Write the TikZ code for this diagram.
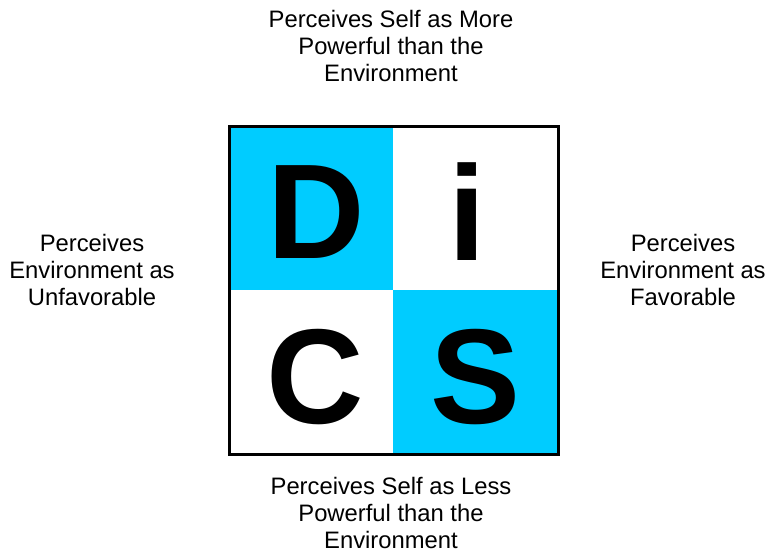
\documentclass[tikz,border=0pt]{standalone}
\usepackage{fontspec}
\setmainfont{Liberation Sans}
\definecolor{discyan}{HTML}{00CCFF}
\begin{document}
\begin{tikzpicture}[x=1pt,y=-1pt,
  lab/.style={align=center,font=\fontsize{23.8}{27}\selectfont,inner sep=0pt},
  big/.style={font=\fontsize{135}{135}\selectfont\bfseries,inner sep=0pt}]
\useasboundingbox (0,0) rectangle (767,552);
\fill[discyan] (229,126) rectangle (393,290);
\fill[discyan] (393,290) rectangle (558,454.5);
\node[draw,line width=3pt,minimum width=329pt,minimum height=328.5pt,inner sep=0pt] (sq) at (393.5,290.25) {};
\node[big] (D) at (316,212.5) {D};
\node[big] (i) at (467.5,212) {i};
\node[big] (C) at (315,377) {C};
\node[big] (S) at (476,377) {S};
\node[lab] (top) at (391,46) {Perceives Self as More\\Powerful than the\\Environment};
\node[lab] (bot) at (391,513) {Perceives Self as Less\\Powerful than the\\Environment};
\node[lab] (left) at (92,270) {Perceives\\Environment as\\Unfavorable};
\node[lab] (right) at (683,270) {Perceives\\Environment as\\Favorable};
\end{tikzpicture}
\end{document}
